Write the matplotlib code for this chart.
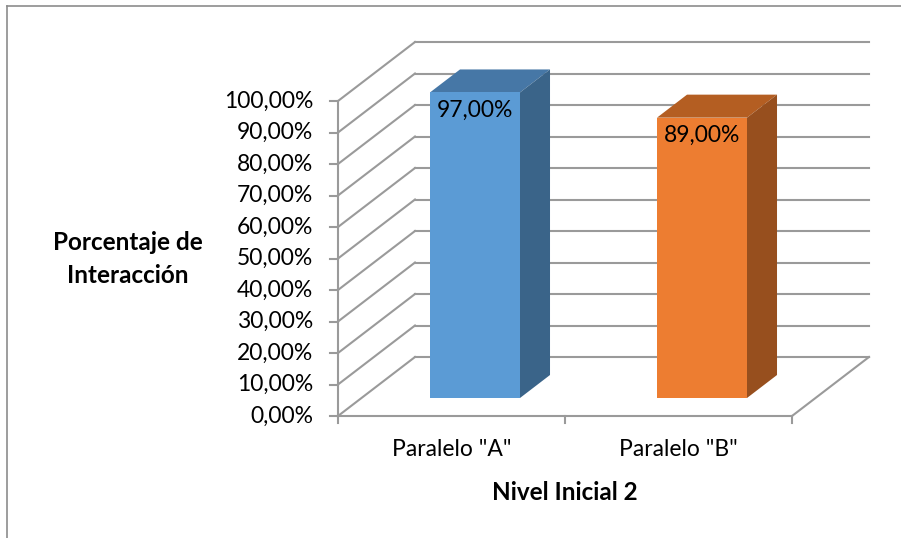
import matplotlib.pyplot as plt
from matplotlib.patches import Polygon
from matplotlib.lines import Line2D

categorias = ['Paralelo "A"', 'Paralelo "B"']
valores = [97, 89]
ticks_y = list(range(0, 101, 10))

color_frente = ["#5B9BD5", "#ED7D31"]
color_tapa = ["#4677A6", "#B45E22"]
color_lado = ["#3A6489", "#974F1E"]
gris = "#9A9A9A"

plt.rcParams["font.family"] = ["Lato", "DejaVu Sans"]

fig = plt.figure(figsize=(9.01, 5.38), dpi=100)
W, H = 901, 538

# plano frontal del grafico en pixeles: x 338..792, y 416..101
ax = fig.add_axes([338 / W, 1 - 416 / H, (792 - 338) / W, (416 - 101) / H])
ax.set_xlim(0, 2)
ax.set_ylim(0, 100)
ax.axis("off")

# desplazamiento de profundidad (oblicuo) en unidades de datos
px_x = 2 / (792 - 338)
px_y = 100 / (416 - 101)
ddx = 77 * px_x
ddy = 59 * px_y

# pared del fondo y pared izquierda
for v in ticks_y:
    ax.plot([ddx, 2 + ddx], [v + ddy, v + ddy], color=gris, lw=1.5, clip_on=False, zorder=1)
    ax.plot([0, ddx], [v, v + ddy], color=gris, lw=1.5, clip_on=False, zorder=1)
    ax.plot([-8 * px_x, 0], [v, v], color=gris, lw=1.5, clip_on=False, zorder=1)
    ax.text(-25 * px_x, v, f"{v},00%", ha="right", va="center",
            fontsize=16.5, color="black")

# piso y ejes
ax.plot([0, 0], [0, 100], color=gris, lw=1.5, clip_on=False, zorder=1)
ax.plot([0, 2], [0, 0], color=gris, lw=1.5, clip_on=False, zorder=1)
ax.plot([2, 2 + ddx], [0, ddy], color=gris, lw=1.5, clip_on=False, zorder=1)
for xt in [0, 1, 2]:
    ax.plot([xt, xt], [0, -7 * px_y], color=gris, lw=1.5, clip_on=False, zorder=1)

# barras 3D
ancho = 90 * px_x
f0, f1 = 0.305, 0.695
for i, (cat, v) in enumerate(zip(categorias, valores)):
    c = i + 0.5
    x0 = c - ancho / 2 + f0 * ddx
    x1 = c + ancho / 2 + f0 * ddx
    y0 = f0 * ddy
    sx = (f1 - f0) * ddx
    sy = (f1 - f0) * ddy
    tapa = [(x0, v + y0), (x1, v + y0), (x1 + sx, v + y0 + sy), (x0 + sx, v + y0 + sy)]
    lado = [(x1, y0), (x1 + sx, y0 + sy), (x1 + sx, v + y0 + sy), (x1, v + y0)]
    frente = [(x0, y0), (x1, y0), (x1, v + y0), (x0, v + y0)]
    ax.add_patch(Polygon(tapa, closed=True, fc=color_tapa[i], ec="none", clip_on=False, zorder=3))
    ax.add_patch(Polygon(lado, closed=True, fc=color_lado[i], ec="none", clip_on=False, zorder=3))
    ax.add_patch(Polygon(frente, closed=True, fc=color_frente[i], ec="none", clip_on=False, zorder=3))
    ax.text((x0 + x1) / 2, v + y0 - 18 * px_y, f"{v},00%", ha="center", va="center",
            fontsize=16.5, color="black", zorder=4)
    ax.text(c, -33 * px_y, cat, ha="center", va="center", fontsize=16.5, color="black")

fig.text(565 / W, 1 - 492 / H, "Nivel Inicial 2", ha="center", va="center",
         fontsize=17.5, fontweight="bold")
fig.text(128 / W, 1 - 259 / H, "Porcentaje de\nInteracción", ha="center", va="center",
         fontsize=17.5, fontweight="bold", linespacing=1.5)

# borde del area del grafico
fig.add_artist(Line2D([7 / W, 7 / W], [0, 1 - 6 / H], color="#8C8C8C", lw=1.2))
fig.add_artist(Line2D([7 / W, 1], [1 - 6 / H, 1 - 6 / H], color="#8C8C8C", lw=1.2))

fig.savefig("out.png", dpi=100)
